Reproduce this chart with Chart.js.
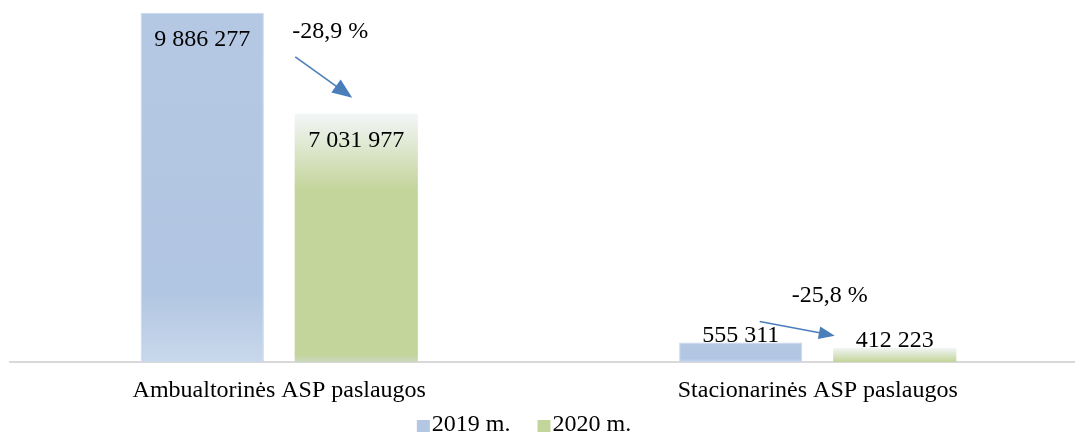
<!DOCTYPE html>
<html>
<head>
<meta charset="utf-8">
<script src="https://cdn.jsdelivr.net/npm/chart.js@4/dist/chart.umd.min.js"></script>
<style>
  html, body { margin: 0; padding: 0; background: #fff; overflow: hidden; }
  #wrap { width: 1087px; height: 433px; }
</style>
</head>
<body>
<div id="wrap"><canvas id="myChart"></canvas></div>
<script>
/** DATA **/
const categories = ['Ambualtorinės ASP paslaugos', 'Stacionarinės ASP paslaugos'];
const seriesNames = ['2019 m.', '2020 m.'];
const values2019 = [9886277, 555311];
const values2020 = [7031977, 412223];
const yMax = 10250000;

const font = 'Liberation Serif, "Times New Roman", serif';
const legendColors = ['#b3c7e2', '#c4d59c'];

function fmt(v) {
  return String(v).replace(/\B(?=(\d{3})+(?!\d))/g, ' ');
}
function pct(a, b) {
  return ((b / a - 1) * 100).toFixed(1).replace('.', ',') + ' %';
}

// gradient fills, built per bar
function blueFill(ctx) {
  const chart = ctx.chart;
  if (!chart.chartArea || ctx.type !== 'data') return '#b3c7e2';
  const y = chart.scales.y;
  const top = y.getPixelForValue(ctx.raw);
  const base = y.getPixelForValue(0);
  const g = chart.ctx.createLinearGradient(0, top, 0, base);
  g.addColorStop(0, '#b5c8e3');
  g.addColorStop(0.8, '#b1c6e2');
  g.addColorStop(1, '#c9d8eb');
  return g;
}
function greenFill(ctx) {
  const chart = ctx.chart;
  if (!chart.chartArea || ctx.type !== 'data') return '#c4d59c';
  const y = chart.scales.y;
  const top = y.getPixelForValue(ctx.raw);
  const base = y.getPixelForValue(0);
  const g = chart.ctx.createLinearGradient(0, top, 0, base);
  g.addColorStop(0, '#f3f6f8');
  g.addColorStop(Math.min(0.95, 75 / Math.max(1, base - top)), '#c4d59c');
  g.addColorStop(0.97, '#c4d59c');
  g.addColorStop(1, '#ccd9bf');
  return g;
}

const data = {
  labels: categories,
  datasets: [
    {
      label: seriesNames[0],
      data: values2019,
      backgroundColor: blueFill,
      borderColor: '#c8d7ec',
      borderWidth: { left: 1, right: 1, top: 1, bottom: 0 },
      barPercentage: 0.8,
      categoryPercentage: 0.572
    },
    {
      label: seriesNames[1],
      data: values2020,
      backgroundColor: greenFill,
      borderWidth: 0,
      barPercentage: 0.8,
      categoryPercentage: 0.572
    }
  ]
};

/** value labels + change arrows + legend **/
const annotOffsets = [
  { text: [-26, 19], from: [-61, 44], to: [-4, -16], head: 20 },
  { text: [-65, -47], from: [19, -21], to: [-60, -12], head: 16 }
];

function arrow(c, x1, y1, x2, y2, head) {
  const a = Math.atan2(y2 - y1, x2 - x1);
  c.save();
  c.strokeStyle = '#4a7ebb';
  c.fillStyle = '#4a7ebb';
  c.lineWidth = 1.6;
  c.beginPath();
  c.moveTo(x1, y1);
  c.lineTo(x2 - Math.cos(a) * head * 0.8, y2 - Math.sin(a) * head * 0.8);
  c.stroke();
  c.beginPath();
  c.moveTo(x2, y2);
  c.lineTo(x2 - head * Math.cos(a) + head * 0.4 * Math.sin(a), y2 - head * Math.sin(a) - head * 0.4 * Math.cos(a));
  c.lineTo(x2 - head * Math.cos(a) - head * 0.4 * Math.sin(a), y2 - head * Math.sin(a) + head * 0.4 * Math.cos(a));
  c.closePath();
  c.fill();
  c.restore();
}

const labelPlugin = {
  id: 'labels',
  afterDatasetsDraw(chart) {
    const c = chart.ctx;
    const m0 = chart.getDatasetMeta(0);
    const m1 = chart.getDatasetMeta(1);
    c.save();
    c.font = '24px ' + font;
    c.fillStyle = '#000';
    c.textAlign = 'center';
    c.textBaseline = 'middle';
    [m0, m1].forEach((meta, di) => {
      meta.data.forEach((bar, i) => {
        const h = bar.base - bar.y;
        const y = h > 60 ? bar.y + 27 : bar.y - 7;
        c.fillText(fmt(chart.data.datasets[di].data[i]), bar.x, y);
      });
    });
    categories.forEach((cat, i) => {
      const b = m0.data[i], g = m1.data[i], o = annotOffsets[i];
      c.fillStyle = '#000';
      c.fillText(pct(values2019[i], values2020[i]), g.x + o.text[0], b.y + o.text[1]);
      const fromY = b.y + o.from[1];
      const fromX = i === 0 ? g.x + o.from[0] : b.x + o.from[0];
      arrow(c, fromX, fromY, g.x + o.to[0], g.y + o.to[1], o.head);
    });

    // legend
    c.textAlign = 'left';
    c.textBaseline = 'alphabetic';
    const widths = seriesNames.map(n => c.measureText(n).width);
    const total = widths.reduce((s, w) => s + w + 15, 0) + 27 * (seriesNames.length - 1);
    let x = 524 - total / 2;
    seriesNames.forEach((n, i) => {
      c.fillStyle = legendColors[i];
      c.fillRect(x, 420, 13, 12);
      c.fillStyle = '#000';
      c.fillText(n, x + 15, 431);
      x += 15 + widths[i] + 27;
    });
    c.restore();
  }
};

const config = {
  type: 'bar',
  data,
  options: {
    responsive: true,
    maintainAspectRatio: false,
    animation: false,
    layout: { padding: { left: 10, right: 0, top: 0, bottom: 14 } },
    scales: {
      x: {
        grid: { display: false, drawTicks: false },
        border: { display: true, color: '#d9d9d9', width: 2 },
        ticks: { color: '#000', font: { family: font, size: 24 }, padding: 14 }
      },
      y: {
        display: false,
        min: 0,
        max: yMax
      }
    },
    plugins: {
      legend: { display: false },
      tooltip: { enabled: false }
    }
  },
  plugins: [labelPlugin]
};

var myChart = new Chart(document.getElementById('myChart'), config);
</script>
</body>
</html>
